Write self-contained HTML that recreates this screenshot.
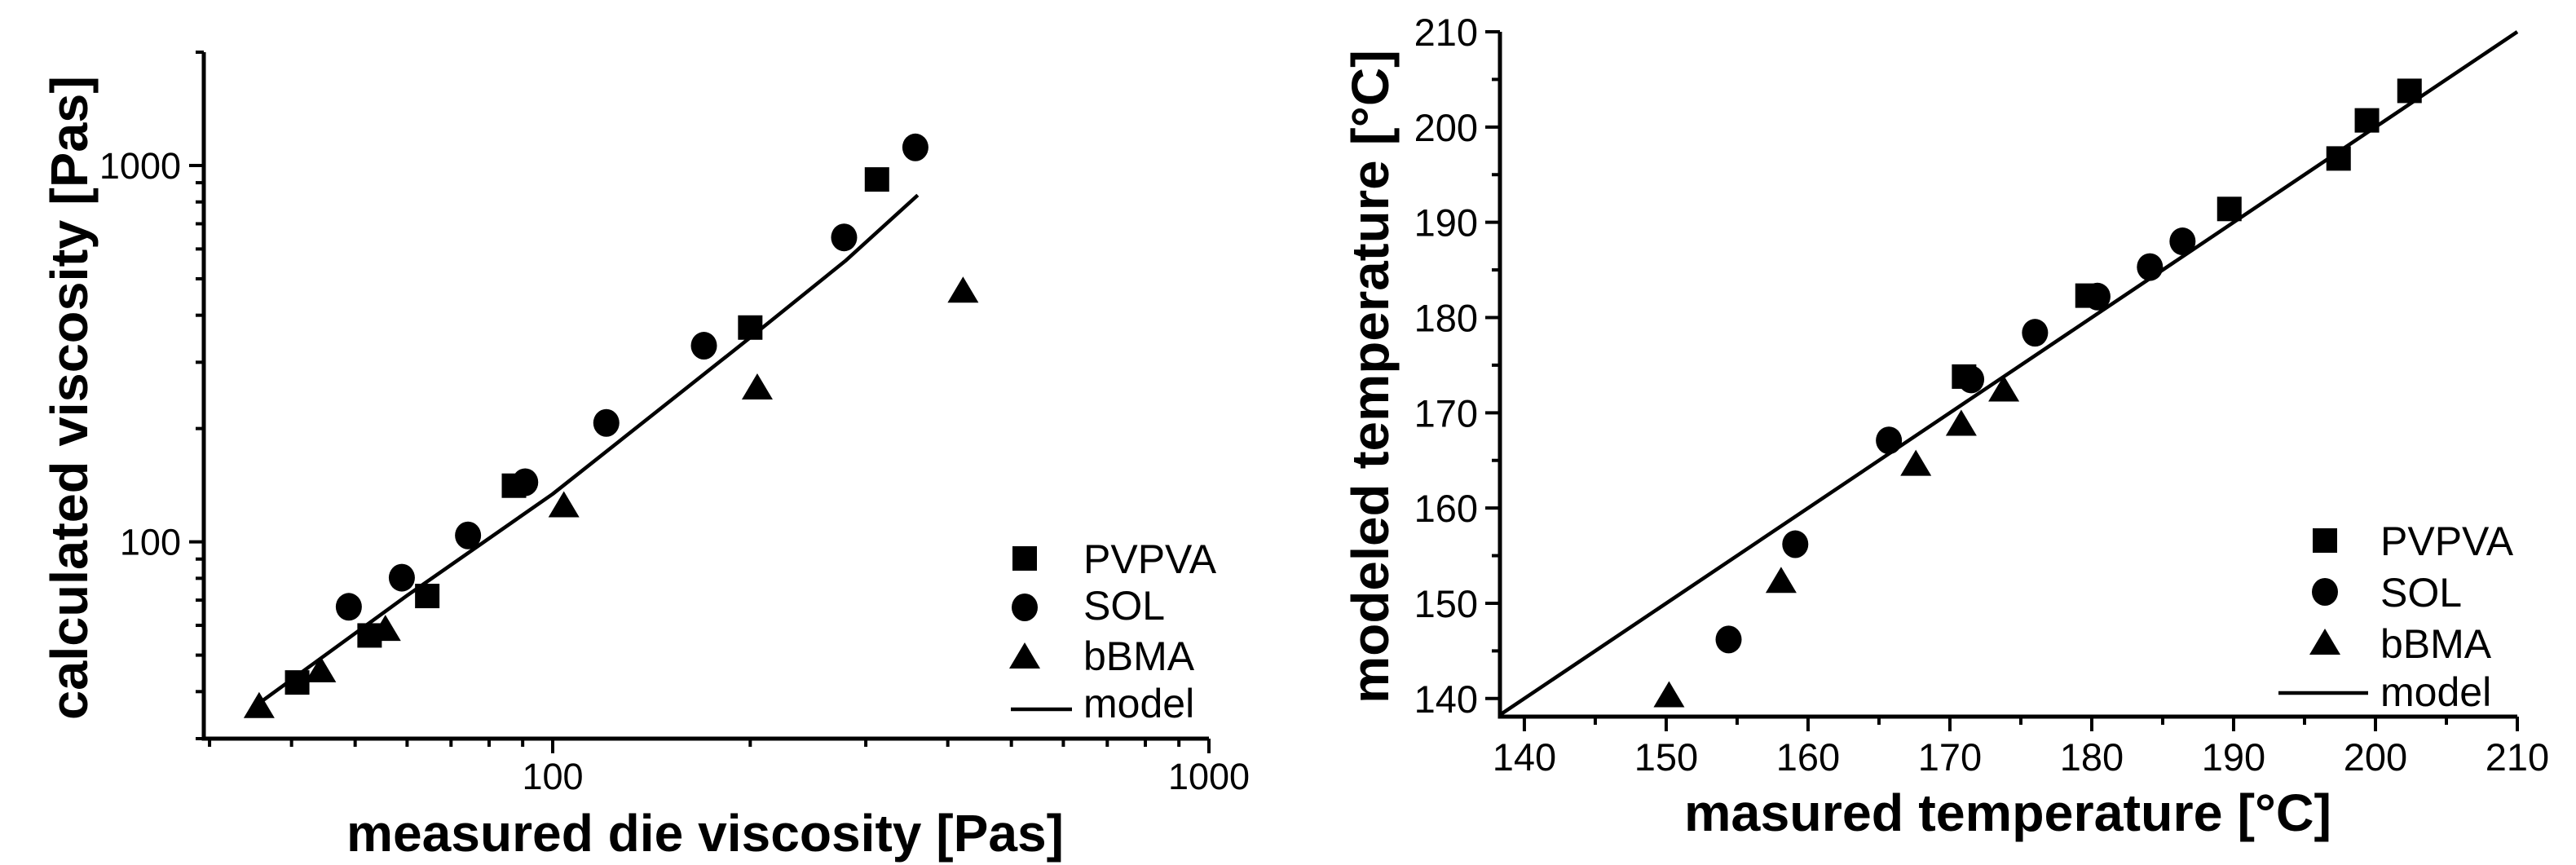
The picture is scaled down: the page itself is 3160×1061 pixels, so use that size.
<!DOCTYPE html>
<html><head><meta charset="utf-8"><style>
html,body{margin:0;padding:0;background:#fff;}
svg{display:block;font-family:"Liberation Sans",Arial,sans-serif;}
</style></head><body>
<svg id="fig" width="3160" height="1061" viewBox="0 0 3160 1061" xmlns="http://www.w3.org/2000/svg">
<g id="left"></g>
<g id="right"></g>
</svg>
<script>
// ---- Left chart data (log-log) ----
const visPvpvaX = [40.8, 52.6, 64.4, 87.3, 200, 312];
const visPvpvaY = [42.3, 56.4, 71.8, 141, 371, 918];
const visSolX = [48.9, 58.9, 74.3, 90.8, 120.7, 170, 278, 357];
const visSolY = [67.2, 80.3, 104, 144, 207, 332, 644, 1117];
const visBbmaX = [35.7, 44.3, 55.6, 104, 205, 422];
const visBbmaY = [36.3, 45.2, 58.2, 124, 255, 461];
const visModelX = [35.5, 60, 100, 200, 280, 360];
const visModelY = [37, 72, 134, 349, 560, 834];
const visXTicks = ["100", "1000"];
const visYTicks = ["100", "1000"];
// ---- Right chart data (linear) ----
const tPvpvaX = [179.7, 171.0, 189.7, 197.4, 199.4, 202.4];
const tPvpvaY = [182.3, 173.8, 191.4, 196.7, 200.7, 203.8];
const tSolX = [154.4, 159.1, 165.7, 171.5, 176.0, 180.4, 184.1, 186.4];
const tSolY = [146.2, 156.2, 167.1, 173.5, 178.4, 182.2, 185.3, 188.0];
const tBbmaX = [150.2, 158.1, 167.6, 170.8, 173.8];
const tBbmaY = [140.2, 152.2, 164.5, 168.7, 172.3];
const tModelX = [138.3, 210];
const tModelY = [138.3, 210];
const tXTicks = ["140","150","160","170","180","190","200","210"];
const tYTicks = ["140","150","160","170","180","190","200","210"];

const NS = "http://www.w3.org/2000/svg";
function mk(parent, tag, attrs, text){
  const e = document.createElementNS(NS, tag);
  for (const k in attrs) e.setAttribute(k, attrs[k]);
  if (text !== undefined) e.textContent = text;
  parent.appendChild(e);
  return e;
}
function marker(g, type, cx, cy){
  let e;
  if (type === 'sq') e = mk(g, 'rect', {x: cx-15, y: cy-15, width: 30, height: 30, fill: '#000'});
  else if (type === 'ci') e = mk(g, 'ellipse', {cx: cx, cy: cy, rx: 16, ry: 17, fill: '#000'});
  else e = mk(g, 'polygon', {points: `${cx},${cy-19} ${cx+19},${cy+13} ${cx-19},${cy+13}`, fill: '#000'});
  return e;
}

// ===== Left chart =====
(function(){
  const g = document.getElementById('left');
  const X0 = 250, X1 = 1483, Y0 = 906, Y1 = 64;
  const lx0 = Math.log10(29.4), lx1 = 3;
  const ly0 = Math.log10(30), ly1 = Math.log10(2000);
  const sx = v => X0 + (Math.log10(v) - lx0) / (lx1 - lx0) * (X1 - X0);
  const sy = v => Y0 - (Math.log10(v) - ly0) / (ly1 - ly0) * (Y0 - Y1);
  const ax = mk(g, 'path', {d: `M${X0},${Y1} L${X0},${Y0} L${X1},${Y0}`, stroke: '#000', 'stroke-width': 5, fill: 'none'});
  
  
  for (let d = 10; d <= 100; d *= 10) {
    for (let m = 1; m <= 10; m++) {
      const v = m * d; if (v < 29.4 || v > 1000) continue;
      const major = (m === 1 || m === 10);
      mk(g, 'line', {x1: sx(v), x2: sx(v), y1: Y0, y2: Y0 + (major ? 18 : 10), stroke: '#000', 'stroke-width': 4});
    }
  }
  visXTicks.forEach(t => {
    const e = mk(g, 'text', {x: sx(+t), y: 968, 'font-size': 45, 'text-anchor': 'middle'}, t);
    
    
  });
  for (let d = 10; d <= 1000; d *= 10) {
    for (let m = 1; m <= 9; m++) {
      const v = m * d; if (v < 30 || v > 2000) continue;
      const major = (m === 1);
      mk(g, 'line', {x1: X0, x2: X0 - (major ? 18 : 10), y1: sy(v), y2: sy(v), stroke: '#000', 'stroke-width': 4});
    }
  }
  visYTicks.forEach(t => {
    const e = mk(g, 'text', {x: 222, y: sy(+t) + 16, 'font-size': 45, 'text-anchor': 'end'}, t);
    
    
  });
  const line = mk(g, 'polyline', {points: visModelX.map((x, i) => sx(x) + ',' + sy(visModelY[i])).join(' '), stroke: '#000', 'stroke-width': 4.5, fill: 'none', 'stroke-linejoin': 'round'});
  
  
  visPvpvaX.forEach((x, i) => { const e = marker(g, 'sq', sx(x), sy(visPvpvaY[i]));
    
     });
  visSolX.forEach((x, i) => { const e = marker(g, 'ci', sx(x), sy(visSolY[i]));
    
     });
  visBbmaX.forEach((x, i) => { const e = marker(g, 'tr', sx(x), sy(visBbmaY[i]));
    
     });
  const lg = mk(g, 'g', {});
  
  
  marker(lg, 'sq', 1257, 685); marker(lg, 'ci', 1257, 745); marker(lg, 'tr', 1257, 807);
  mk(lg, 'line', {x1: 1240, x2: 1315, y1: 870, y2: 870, stroke: '#000', 'stroke-width': 4.5});
  mk(lg, 'text', {x: 1329, y: 703, 'font-size': 50}, 'PVPVA');
  mk(lg, 'text', {x: 1329, y: 760, 'font-size': 50}, 'SOL');
  mk(lg, 'text', {x: 1329, y: 822, 'font-size': 50}, 'bBMA');
  mk(lg, 'text', {x: 1329, y: 880, 'font-size': 50}, 'model');
  const xt = mk(g, 'text', {x: 425, y: 1044, 'font-size': 64, 'font-weight': 'bold', textLength: 880, lengthAdjust: 'spacingAndGlyphs'}, 'measured die viscosity [Pas]');
  
  
  const yt = mk(g, 'text', {x: 0, y: 0, 'font-size': 64, 'font-weight': 'bold', 'text-anchor': 'middle', textLength: 790, lengthAdjust: 'spacingAndGlyphs', transform: 'translate(107,488) rotate(-90)'}, 'calculated viscosity [Pas]');
  
  
})();

// ===== Right chart =====
(function(){
  const g = document.getElementById('right');
  const X0 = 1840, X1 = 3088, Y0 = 879, Y1 = 39;
  const xmin = 138.28, xmax = 210, ymin = 138.1, ymax = 210;
  const sx = v => X0 + (v - xmin) / (xmax - xmin) * (X1 - X0);
  const sy = v => Y0 - (v - ymin) / (ymax - ymin) * (Y0 - Y1);
  const ax = mk(g, 'path', {d: `M${X0},${Y1} L${X0},${Y0} L${X1},${Y0}`, stroke: '#000', 'stroke-width': 5, fill: 'none'});
  
  
  for (let v = 140; v <= 210; v += 5) {
    const major = v % 10 === 0;
    mk(g, 'line', {x1: sx(v), x2: sx(v), y1: Y0, y2: Y0 + (major ? 18 : 10), stroke: '#000', 'stroke-width': 4});
    mk(g, 'line', {x1: X0, x2: X0 - (major ? 18 : 10), y1: sy(v), y2: sy(v), stroke: '#000', 'stroke-width': 4});
  }
  tXTicks.forEach(t => {
    const e = mk(g, 'text', {x: sx(+t), y: 945, 'font-size': 47, 'text-anchor': 'middle'}, t);
    
    
  });
  tYTicks.forEach(t => {
    const e = mk(g, 'text', {x: 1813, y: sy(+t) + 17, 'font-size': 47, 'text-anchor': 'end'}, t);
    
    
  });
  const line = mk(g, 'polyline', {points: tModelX.map((x, i) => sx(x) + ',' + sy(tModelY[i])).join(' '), stroke: '#000', 'stroke-width': 4.5, fill: 'none'});
  
  
  tPvpvaX.forEach((x, i) => { const e = marker(g, 'sq', sx(x), sy(tPvpvaY[i]));
    
     });
  tSolX.forEach((x, i) => { const e = marker(g, 'ci', sx(x), sy(tSolY[i]));
    
     });
  tBbmaX.forEach((x, i) => { const e = marker(g, 'tr', sx(x), sy(tBbmaY[i]));
    
     });
  const lg = mk(g, 'g', {});
  
  
  marker(lg, 'sq', 2852, 663); marker(lg, 'ci', 2852, 726); marker(lg, 'tr', 2852, 790);
  mk(lg, 'line', {x1: 2795, x2: 2905, y1: 850, y2: 850, stroke: '#000', 'stroke-width': 4.5});
  mk(lg, 'text', {x: 2920, y: 681, 'font-size': 50}, 'PVPVA');
  mk(lg, 'text', {x: 2920, y: 744, 'font-size': 50}, 'SOL');
  mk(lg, 'text', {x: 2920, y: 807, 'font-size': 50}, 'bBMA');
  mk(lg, 'text', {x: 2920, y: 866, 'font-size': 50}, 'model');
  const xt = mk(g, 'text', {x: 2066, y: 1019, 'font-size': 64, 'font-weight': 'bold', textLength: 794, lengthAdjust: 'spacingAndGlyphs'}, 'masured temperature [°C]');
  
  
  const yt = mk(g, 'text', {x: 0, y: 0, 'font-size': 64, 'font-weight': 'bold', 'text-anchor': 'middle', textLength: 802, lengthAdjust: 'spacingAndGlyphs', transform: 'translate(1703,462) rotate(-90)'}, 'modeled temperature [°C]');
  
  
})();
</script>
</body></html>
